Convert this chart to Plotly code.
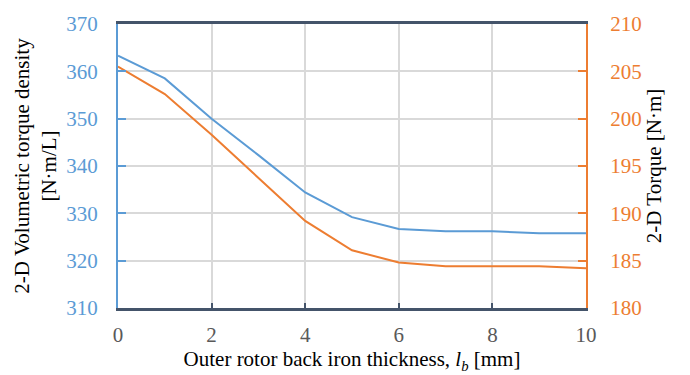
import plotly.graph_objects as go

# Outer rotor back iron thickness [mm]
thickness = [0, 1, 2, 3, 4, 5, 6, 7, 8, 9, 10]
# 2-D volumetric torque density [N·m/L]
torque_density = [363.3, 358.5, 350.0, 342.3, 334.4, 329.2, 326.7, 326.2, 326.2, 325.8, 325.8]
# 2-D torque [N·m]
torque = [205.5, 202.6, 198.3, 193.7, 189.2, 186.1, 184.8, 184.4, 184.4, 184.4, 184.2]

BLUE = "#5B9BD5"
ORANGE = "#ED7D31"
SLATE = "#44546A"
GRID = "#D9D9D9"
FONT = "Liberation Serif"

fig = go.Figure()
fig.add_trace(go.Scatter(x=thickness, y=torque_density, mode="lines",
                         line=dict(color=BLUE, width=2), yaxis="y", showlegend=False))
fig.add_trace(go.Scatter(x=thickness, y=torque, mode="lines",
                         line=dict(color=ORANGE, width=2), yaxis="y2", showlegend=False))

fig.update_layout(
    width=690, height=375,
    margin=dict(l=118, r=104, t=16, b=67),
    paper_bgcolor="white", plot_bgcolor="white",
    font=dict(family=FONT, size=21, color="#404040"),
    xaxis=dict(
        range=[0, 10], dtick=2, tick0=0,
        showgrid=True, gridcolor=GRID, gridwidth=2,
        showline=True, linecolor=SLATE, linewidth=3, mirror=True,
        ticks="inside", ticklen=5, tickwidth=2, tickcolor=SLATE,
        tickfont=dict(family=FONT, size=21, color="#595959"),
        ticklabelstandoff=6,
        zeroline=False,
        title=dict(text="Outer rotor back iron thickness, <i>l<sub>b</sub></i> [mm]",
                   font=dict(family=FONT, size=21, color="#000000"), standoff=0),
    ),
    yaxis=dict(
        range=[310, 370], dtick=10,
        showgrid=True, gridcolor=GRID, gridwidth=2,
        showline=True, linecolor=BLUE, linewidth=2,
        ticks="inside", ticklen=8, tickwidth=2, tickcolor=BLUE,
        tickfont=dict(family=FONT, size=21, color=BLUE),
        ticklabelstandoff=14,
        zeroline=False,
        title=dict(text="2-D Volumetric torque density<br>[N·m/L]",
                   font=dict(family=FONT, size=21, color="#000000"), standoff=4),
    ),
    yaxis2=dict(
        range=[180, 210], dtick=5,
        overlaying="y", side="right",
        showgrid=False,
        showline=True, linecolor=ORANGE, linewidth=2,
        ticks="inside", ticklen=8, tickwidth=2, tickcolor=ORANGE,
        tickfont=dict(family=FONT, size=21, color=ORANGE),
        ticklabelstandoff=18,
        zeroline=False,
        title=dict(text="2-D Torque [N·m]",
                   font=dict(family=FONT, size=21, color="#000000"), standoff=6),
    ),
)

fig.write_html("out.html")
